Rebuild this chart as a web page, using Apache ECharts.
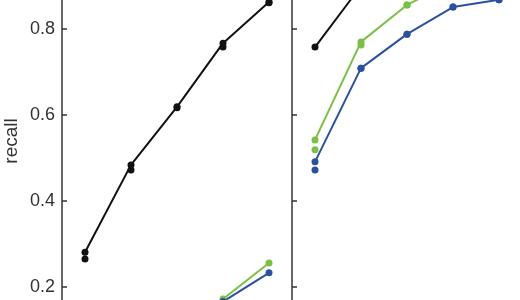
<!DOCTYPE html>
<html>
<head>
<meta charset="utf-8">
<script src="https://cdn.jsdelivr.net/npm/echarts@6/dist/echarts.min.js"></script>
<style>
html,body{margin:0;padding:0;background:#fff;overflow:hidden;width:520px;height:300px;position:relative;}
#chart{position:absolute;left:0;top:-100px;width:540px;height:500px;}
</style>
</head>
<body>
<div id="chart"></div>
<script>
// x categories (5 steps per panel)
var categories = ['1', '2', '3', '4', '5'];
var yTicks = [0, 0.2, 0.4, 0.6, 0.8, 1.0];

// Left panel
var leftBlackA = [0.281, 0.484, 0.619, 0.767, 0.863];
var leftBlackB = [0.265, 0.472, 0.617, 0.758, 0.861];
var leftGreen  = [null, null, null, 0.172, 0.256];
var leftBlue   = [null, null, null, 0.166, 0.233];

// Right panel
var rightBlack  = [0.758, 0.900, null, null, null];
var rightGreenA = [0.542, 0.770, 0.856, 0.910, null];
var rightGreenB = [0.519, 0.763, 0.856, 0.910, null];
var rightBlueA  = [0.491, 0.709, 0.788, 0.851, 0.868];
var rightBlueB  = [0.472, 0.709, 0.788, 0.851, 0.868];

var BLACK = '#111111', GREEN = '#7bbf45', BLUE = '#2c50a0';

function yAxisCfg(gi, showLabels) {
  return {
    type: 'value', gridIndex: gi, min: yTicks[0], max: yTicks[yTicks.length - 1], interval: 0.2,
    splitLine: {show: false},
    axisLine: {show: true, lineStyle: {color: '#333', width: 1.5}},
    axisTick: {show: true, inside: true, length: 5, lineStyle: {color: '#333', width: 1.5}},
    axisLabel: {show: showLabels, margin: 7, fontSize: 18, color: '#333',
      fontFamily: 'Liberation Sans, Arial, sans-serif',
      formatter: function (v) { return v.toFixed(1); }}
  };
}
function xAxisCfg(gi) {
  return {type: 'category', gridIndex: gi, data: categories, boundaryGap: true,
    axisLine: {show: false}, axisTick: {show: false}, axisLabel: {show: false}};
}
function line(name, data, color, xi, withLine) {
  return {
    name: name, type: 'line', xAxisIndex: xi, yAxisIndex: xi, data: data,
    symbol: 'circle', symbolSize: 7, showSymbol: true,
    lineStyle: {color: color, width: 2, opacity: withLine ? 1 : 0}, itemStyle: {color: color},
    connectNulls: false, animation: false
  };
}

var chart = echarts.init(document.getElementById('chart'), null, {renderer: 'canvas'});
chart.setOption({
  backgroundColor: '#fff',
  animation: false,
  grid: [
    {left: 62, top: 43, width: 230, height: 430},
    {left: 292, top: 43, width: 230, height: 430}
  ],
  xAxis: [xAxisCfg(0), xAxisCfg(1)],
  yAxis: [yAxisCfg(0, true), yAxisCfg(1, false)],
  graphic: [{
    type: 'text', x: 12, y: 241, rotation: Math.PI / 2,
    style: {text: 'recall', fontSize: 19, fill: '#333', fontFamily: 'Liberation Sans, Arial, sans-serif',
      align: 'center', verticalAlign: 'middle'}
  }],
  series: [
    line('black B', leftBlackB, BLACK, 0, false),
    line('black A', leftBlackA, BLACK, 0, true),
    line('green', leftGreen, GREEN, 0, true),
    line('blue', leftBlue, BLUE, 0, true),
    line('black', rightBlack, BLACK, 1, true),
    line('green B', rightGreenB, GREEN, 1, false),
    line('green A', rightGreenA, GREEN, 1, true),
    line('blue B', rightBlueB, BLUE, 1, false),
    line('blue A', rightBlueA, BLUE, 1, true)
  ]
});
</script>
</body>
</html>
